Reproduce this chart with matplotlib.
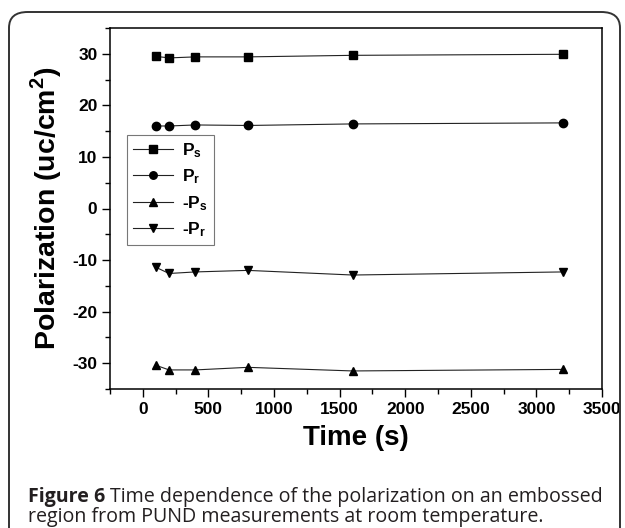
import matplotlib
matplotlib.use("Agg")
import matplotlib.pyplot as plt
from matplotlib.patches import FancyBboxPatch

time_s = [100, 200, 400, 800, 1600, 3200]
ps = [29.5, 29.2, 29.4, 29.4, 29.7, 29.9]
pr = [16.0, 16.0, 16.2, 16.1, 16.4, 16.6]
neg_ps = [-30.4, -31.3, -31.3, -30.8, -31.5, -31.2]
neg_pr = [-11.4, -12.6, -12.3, -12.0, -12.9, -12.3]

series = [
    (ps, "s", r"$\mathbf{P_s}$"),
    (pr, "o", r"$\mathbf{P_r}$"),
    (neg_ps, "^", r"-$\mathbf{P_s}$"),
    (neg_pr, "v", r"-$\mathbf{P_r}$"),
]

caption_bold = "Figure 6"
caption_rest = "Time dependence of the polarization on an embossed"
caption_line2 = "region from PUND measurements at room temperature."


def main():
    plt.rcParams["font.family"] = ["Liberation Sans", "DejaVu Sans"]
    plt.rcParams["mathtext.fontset"] = "custom"
    plt.rcParams["mathtext.rm"] = "Liberation Sans"
    plt.rcParams["mathtext.bf"] = "Liberation Sans:bold"
    plt.rcParams["axes.unicode_minus"] = False

    fig = plt.figure(figsize=(6.25, 5.28), dpi=100)

    # outer rounded frame
    frame = FancyBboxPatch((9 / 625, -0.2), 611 / 625, 1 - 12 / 528 + 0.2,
                           boxstyle="round,pad=0,rounding_size=0.03",
                           transform=fig.transFigure, fill=False,
                           ec="#333333", lw=1.4, zorder=0)
    fig.patches.append(frame)

    ax = fig.add_axes([110 / 625, 1 - 389 / 528, 492 / 625, 361 / 528])

    for vals, marker, name in series:
        ax.plot(time_s, vals, color="#222222", lw=0.8, marker=marker,
                markersize=6, markerfacecolor="black",
                markeredgecolor="black", label=name)

    ax.set_xlim(-250, 3500)
    ax.set_ylim(-35, 35)
    ax.set_xticks(range(0, 3501, 500))
    ax.set_xticks(range(-250, 3501, 250), minor=True)
    ax.set_yticks(range(-30, 31, 10))
    ax.set_yticks(range(-35, 36, 5), minor=True)
    ax.tick_params(which="both", direction="out", top=False, right=False)
    ax.tick_params(which="major", length=6, width=1.0, labelsize=12.5,
                   pad=3)
    ax.tick_params(which="minor", length=3.5, width=1.0)
    for lab in ax.get_xticklabels() + ax.get_yticklabels():
        lab.set_fontweight("bold")
    for sp in ax.spines.values():
        sp.set_linewidth(1.1)

    ax.set_xlabel("Time (s)", fontsize=20, fontweight="bold", labelpad=6)
    ax.set_ylabel(r"Polarization (uc/cm$^\mathbf{2}$)", fontsize=20.5,
                  fontweight="bold", labelpad=6)

    leg = ax.legend(loc="upper left", bbox_to_anchor=(0.035, 0.704),
                    prop={"size": 12.5, "weight": "bold"}, frameon=True,
                    fancybox=False, handlelength=2.3, borderaxespad=0,
                    labelspacing=0.45, handletextpad=0.5, borderpad=0.35,
                    markerscale=0.9)
    leg.get_frame().set_edgecolor("#555555")
    leg.get_frame().set_linewidth(0.8)

    # caption: bold lead-in followed by regular text
    y1 = 1 - 497 / 528
    y2 = 1 - 517 / 528
    t_bold = fig.text(28 / 625, y1, caption_bold, fontsize=14.1,
                      fontweight="bold", family="Open Sans", va="center",
                      color="#231f20")
    fig.canvas.draw()
    bb = t_bold.get_window_extent()
    x_next = (bb.x1 + 5) / fig.bbox.width
    fig.text(x_next, y1, caption_rest, fontsize=14.1, family="Open Sans",
             va="center", color="#231f20")
    fig.text(28 / 625, y2, caption_line2, fontsize=14.1, family="Open Sans",
             va="center", color="#231f20")

    fig.savefig("out.png", dpi=100)


if __name__ == "__main__":
    main()
